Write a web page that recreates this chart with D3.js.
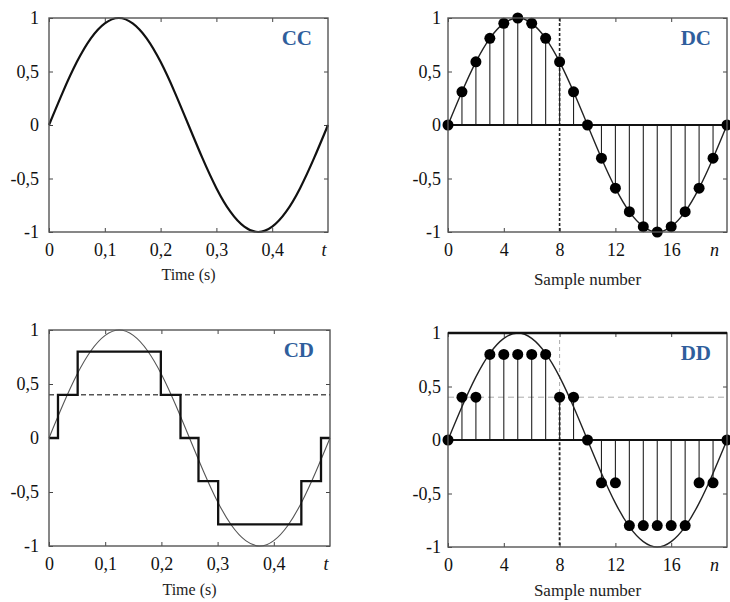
<!DOCTYPE html>
<html>
<head>
<meta charset="utf-8">
<script src="https://cdn.jsdelivr.net/npm/d3@7"></script>
<style>
  body { margin: 0; background: #fff; }
  svg { display: block; }
  .axis text { font-family: "Liberation Serif", "DejaVu Serif", serif; fill: #111; }
</style>
</head>
<body>
<div class="chart"></div>
<script>
// sine (time in s / sample index)
const sineT = [0, 0.025, 0.05, 0.075, 0.1, 0.125, 0.15, 0.175, 0.2, 0.225, 0.25,
               0.275, 0.3, 0.325, 0.35, 0.375, 0.4, 0.425, 0.45, 0.475, 0.5];
const sineV = [0, 0.31, 0.59, 0.81, 0.95, 1, 0.95, 0.81, 0.59, 0.31, 0,
               -0.31, -0.59, -0.81, -0.95, -1, -0.95, -0.81, -0.59, -0.31, 0];
const sampleN = [0, 1, 2, 3, 4, 5, 6, 7, 8, 9, 10, 11, 12, 13, 14, 15, 16, 17, 18, 19, 20];
const dcValues = [0, 0.31, 0.59, 0.81, 0.95, 1, 0.95, 0.81, 0.59, 0.31, 0,
                  -0.31, -0.59, -0.81, -0.95, -1, -0.95, -0.81, -0.59, -0.31, 0];
const ddValues = [0, 0.4, 0.4, 0.8, 0.8, 0.8, 0.8, 0.8, 0.4, 0.4, 0,
                  -0.4, -0.4, -0.8, -0.8, -0.8, -0.8, -0.8, -0.4, -0.4, 0];
// quantised signal (CD): level holds from stepT[i] to stepT[i+1]
const stepT = [0, 0.016, 0.051, 0.199, 0.234, 0.266, 0.301, 0.449, 0.484, 0.5];
const stepV = [0, 0.4, 0.8, 0.4, 0, -0.4, -0.8, -0.4, 0, 0];
const quantLevel = 0.4;
const markN = 8;

const timeTicks = [0, 0.1, 0.2, 0.3, 0.4];
const timeTickLabels = ['0', '0,1', '0,2', '0,3', '0,4'];
const sampleTicks = [0, 4, 8, 12, 16];
const sampleTickLabels = ['0', '4', '8', '12', '16'];
const ampTicks = [-1, -0.5, 0, 0.5, 1];
const ampTickLabels = ['-1', '-0,5', '0', '0,5', '1'];

const W = 730, H = 602;
const svg = d3.select('.chart').append('svg').attr('width', W).attr('height', H);

const panels = [
  { name: 'CC', x0: 49, x1: 328, y0: 18, y1: 232, kind: 'time', lblPad: 10, xlab: 'Time (s)', xlabY: 280, xlabSize: 16 },
  { name: 'DC', x0: 448, x1: 727, y0: 18, y1: 232, kind: 'sample', lblPad: 7, xlab: 'Sample number', xlabY: 285, xlabSize: 17 },
  { name: 'CD', x0: 49, x1: 330, y0: 330, y1: 546, kind: 'time', lblPad: 10, xlab: 'Time (s)', xlabY: 595, xlabSize: 16 },
  { name: 'DD', x0: 448, x1: 727, y0: 333, y1: 547, kind: 'sample', lblPad: 7, xlab: 'Sample number', xlabY: 596, xlabSize: 17 }
];

function drawPanel(p) {
  const g = svg.append('g').attr('class', 'panel ' + p.name);
  const isTime = p.kind === 'time';
  const x = d3.scaleLinear().domain(isTime ? [0, 0.5] : [0, 20]).range([p.x0, p.x1]);
  const y = d3.scaleLinear().domain([-1, 1]).range([p.y1, p.y0]);
  const xt = isTime ? timeTicks : sampleTicks;
  const xl = isTime ? timeTickLabels : sampleTickLabels;

  // axes: inward ticks on all four sides
  const ax = g.append('g').attr('class', 'axis');
  ax.append('g').attr('transform', `translate(0,${p.y1})`)
    .call(d3.axisBottom(x).tickValues(xt).tickSizeInner(-4).tickSizeOuter(0).tickPadding(11)
      .tickFormat((d, i) => xl[i]));
  ax.append('g').attr('transform', `translate(0,${p.y0})`)
    .call(d3.axisTop(x).tickValues(xt).tickSizeInner(-4).tickSizeOuter(0).tickFormat(''));
  ax.append('g').attr('transform', `translate(${p.x0},0)`)
    .call(d3.axisLeft(y).tickValues(ampTicks).tickSizeInner(-4).tickSizeOuter(0).tickPadding(p.lblPad)
      .tickFormat((d, i) => ampTickLabels[i]));
  ax.append('g').attr('transform', `translate(${p.x1},0)`)
    .call(d3.axisRight(y).tickValues(ampTicks).tickSizeInner(-4).tickSizeOuter(0).tickFormat(''));
  ax.selectAll('.domain').remove();
  ax.selectAll('.tick line').attr('stroke', '#444');
  ax.selectAll('text').style('font-size', '18px');

  const sine = d3.line().curve(d3.curveNatural)
    .x((d, i) => isTime ? x(sineT[i]) : x(sampleN[i]))
    .y(d => y(d));

  if (p.name === 'CC') {
    g.append('path').attr('d', sine(sineV)).attr('fill', 'none')
      .attr('stroke', '#111').attr('stroke-width', 2.2);
  }

  if (p.name === 'CD') {
    g.append('line').attr('x1', p.x0).attr('x2', p.x1)
      .attr('y1', y(quantLevel)).attr('y2', y(quantLevel))
      .attr('stroke', '#555').attr('stroke-width', 1.4).attr('stroke-dasharray', '5,3');
    g.append('path').attr('d', sine(sineV)).attr('fill', 'none')
      .attr('stroke', '#555').attr('stroke-width', 1.1);
    const step = d3.line().curve(d3.curveStepAfter)
      .x((d, i) => x(stepT[i])).y(d => y(d));
    g.append('path').attr('d', step(stepV)).attr('fill', 'none')
      .attr('stroke', '#111').attr('stroke-width', 2.3);
  }

  if (p.kind === 'sample') {
    const vals = p.name === 'DC' ? dcValues : ddValues;
    if (p.name === 'DC') {
      g.append('line').attr('x1', x(markN)).attr('x2', x(markN))
        .attr('y1', p.y0).attr('y2', p.y1)
        .attr('stroke', '#222').attr('stroke-width', 1.6).attr('stroke-dasharray', '3,2');
    } else {
      g.append('line').attr('x1', p.x0).attr('x2', p.x1)
        .attr('y1', y(quantLevel)).attr('y2', y(quantLevel))
        .attr('stroke', '#aaa').attr('stroke-width', 1).attr('stroke-dasharray', '6,4');
      g.append('line').attr('x1', x(markN)).attr('x2', x(markN))
        .attr('y1', p.y0).attr('y2', y(quantLevel))
        .attr('stroke', '#aaa').attr('stroke-width', 1).attr('stroke-dasharray', '4,3');
      g.append('line').attr('x1', x(markN)).attr('x2', x(markN))
        .attr('y1', y(quantLevel)).attr('y2', p.y1)
        .attr('stroke', '#222').attr('stroke-width', 1.8).attr('stroke-dasharray', '3,2');
    }
    // stems
    g.selectAll('line.stem').data(vals).enter().append('line').attr('class', 'stem')
      .attr('x1', (d, i) => x(sampleN[i])).attr('x2', (d, i) => x(sampleN[i]))
      .attr('y1', y(0)).attr('y2', d => y(d))
      .attr('stroke', '#222').attr('stroke-width', 1.1);
    // zero line
    g.append('line').attr('x1', p.x0).attr('x2', p.x1).attr('y1', y(0)).attr('y2', y(0))
      .attr('stroke', '#111').attr('stroke-width', 1.8);
    g.append('path').attr('d', sine(dcValues)).attr('fill', 'none')
      .attr('stroke', '#222').attr('stroke-width', 1.4);
    g.selectAll('circle').data(vals).enter().append('circle')
      .attr('cx', (d, i) => x(sampleN[i])).attr('cy', d => y(d))
      .attr('r', 5.5).attr('fill', '#000');
  }

  // frame
  g.append('rect').attr('x', p.x0).attr('y', p.y0)
    .attr('width', p.x1 - p.x0).attr('height', p.y1 - p.y0)
    .attr('fill', 'none').attr('stroke', '#555').attr('stroke-width', 1.4);
  if (p.name === 'DD') {
    g.append('line').attr('x1', p.x0).attr('x2', p.x1).attr('y1', p.y0).attr('y2', p.y0)
      .attr('stroke', '#111').attr('stroke-width', 2.6);
  }

  // panel tag
  g.append('text').attr('x', p.x1 - 16).attr('y', p.y0 + 27)
    .attr('text-anchor', 'end')
    .style('font-family', '"Liberation Serif", serif').style('font-weight', 'bold')
    .style('font-size', '21px').style('fill', '#2f5e9c')
    .text(p.name);

  // variable name at the end of the x axis
  g.append('text').attr('x', isTime ? x(0.493) : x(19.1)).attr('y', p.y1 + 24)
    .attr('text-anchor', 'middle')
    .style('font-family', '"Liberation Serif", serif').style('font-style', 'italic')
    .style('font-size', '18px').style('fill', '#111')
    .text(isTime ? 't' : 'n');

  // x axis title
  g.append('text').attr('x', (p.x0 + p.x1) / 2).attr('y', p.xlabY)
    .attr('text-anchor', 'middle')
    .style('font-family', '"Liberation Serif", serif')
    .style('font-size', p.xlabSize + 'px').style('fill', '#222')
    .text(p.xlab);
}

panels.forEach(drawPanel);
</script>
</body>
</html>
